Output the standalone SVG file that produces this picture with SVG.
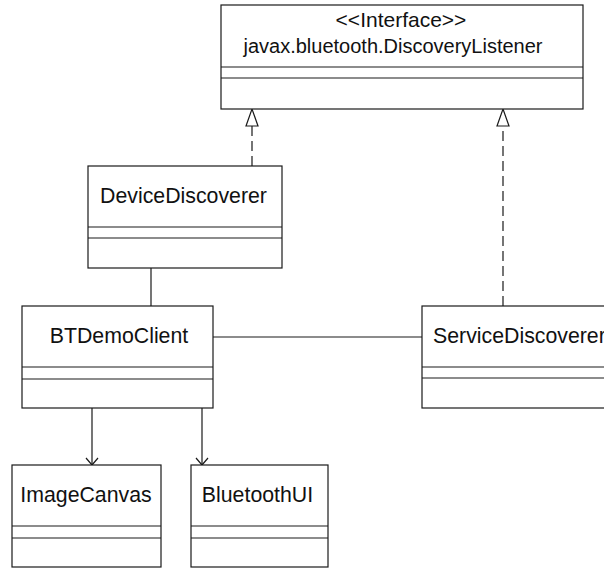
<svg xmlns="http://www.w3.org/2000/svg" width="604" height="568" viewBox="0 0 604 568">
<style>
.box{fill:#fff;stroke:#1a1a1a;stroke-width:1.2}
.sep{stroke:#1a1a1a;stroke-width:1.2}
.t{font-family:"Liberation Sans",Arial,Helvetica,sans-serif;font-size:21.3px;fill:#111}
.c{text-anchor:middle}
.conn{fill:none;stroke:#1a1a1a;stroke-width:1.2}
.dash{stroke-dasharray:10,5}
</style>
<defs>
<marker id="tri" markerUnits="userSpaceOnUse" viewBox="-1 -7 20 14" refX="0" refY="0" markerWidth="20" markerHeight="14" orient="auto" overflow="visible">
<path d="M0,-6 L17,0 L0,6 Z" fill="#fff" stroke="#1a1a1a" stroke-width="1.2"/>
</marker>
<marker id="open" markerUnits="userSpaceOnUse" viewBox="-9 -8 10 16" refX="0" refY="0" markerWidth="10" markerHeight="16" orient="auto" overflow="visible">
<path d="M-7,-6 L0,0 L-7,6" fill="none" stroke="#1a1a1a" stroke-width="1.2"/>
</marker>
</defs>
<g id="connectors">
<path class="conn dash" d="M252,166 L252,126" marker-end="url(#tri)"/>
<path class="conn dash" d="M503,306 L503,126" marker-end="url(#tri)"/>
<path class="conn" d="M151,268 L151,306"/>
<path class="conn" d="M213,337 L422,337"/>
<path class="conn" d="M92,408 L92,465" marker-end="url(#open)"/>
<path class="conn" d="M202,408 L202,465" marker-end="url(#open)"/>
</g>
<g id="DiscoveryListener">
<rect class="box" x="221" y="5" width="362" height="104"/>
<line class="sep" x1="221" y1="67" x2="583" y2="67"/>
<line class="sep" x1="221" y1="78" x2="583" y2="78"/>
<text class="t c" x="401" y="27" style="font-size:21px">&lt;&lt;Interface&gt;&gt;</text>
<text class="t c" x="393" y="53" style="font-size:20px">javax.bluetooth.DiscoveryListener</text>
</g>
<g id="DeviceDiscoverer">
<rect class="box" x="88" y="166" width="194" height="102"/>
<line class="sep" x1="88" y1="227" x2="282" y2="227"/>
<line class="sep" x1="88" y1="238" x2="282" y2="238"/>
<text class="t c" x="183.5" y="203">DeviceDiscoverer</text>
</g>
<g id="BTDemoClient">
<rect class="box" x="22" y="306" width="191" height="102"/>
<line class="sep" x1="22" y1="367" x2="213" y2="367"/>
<line class="sep" x1="22" y1="379" x2="213" y2="379"/>
<text class="t c" x="119" y="343">BTDemoClient</text>
</g>
<g id="ServiceDiscoverer">
<rect class="box" x="422" y="306" width="200" height="102"/>
<line class="sep" x1="422" y1="367" x2="622" y2="367"/>
<line class="sep" x1="422" y1="378" x2="622" y2="378"/>
<text class="t" x="433" y="343">ServiceDiscoverer</text>
</g>
<g id="ImageCanvas">
<rect class="box" x="12" y="465" width="149" height="102"/>
<line class="sep" x1="12" y1="526" x2="161" y2="526"/>
<line class="sep" x1="12" y1="538" x2="161" y2="538"/>
<text class="t c" x="86" y="502">ImageCanvas</text>
</g>
<g id="BluetoothUI">
<rect class="box" x="191" y="465" width="137" height="102"/>
<line class="sep" x1="191" y1="526" x2="328" y2="526"/>
<line class="sep" x1="191" y1="538" x2="328" y2="538"/>
<text class="t c" x="257.5" y="502">BluetoothUI</text>
</g>
</svg>
